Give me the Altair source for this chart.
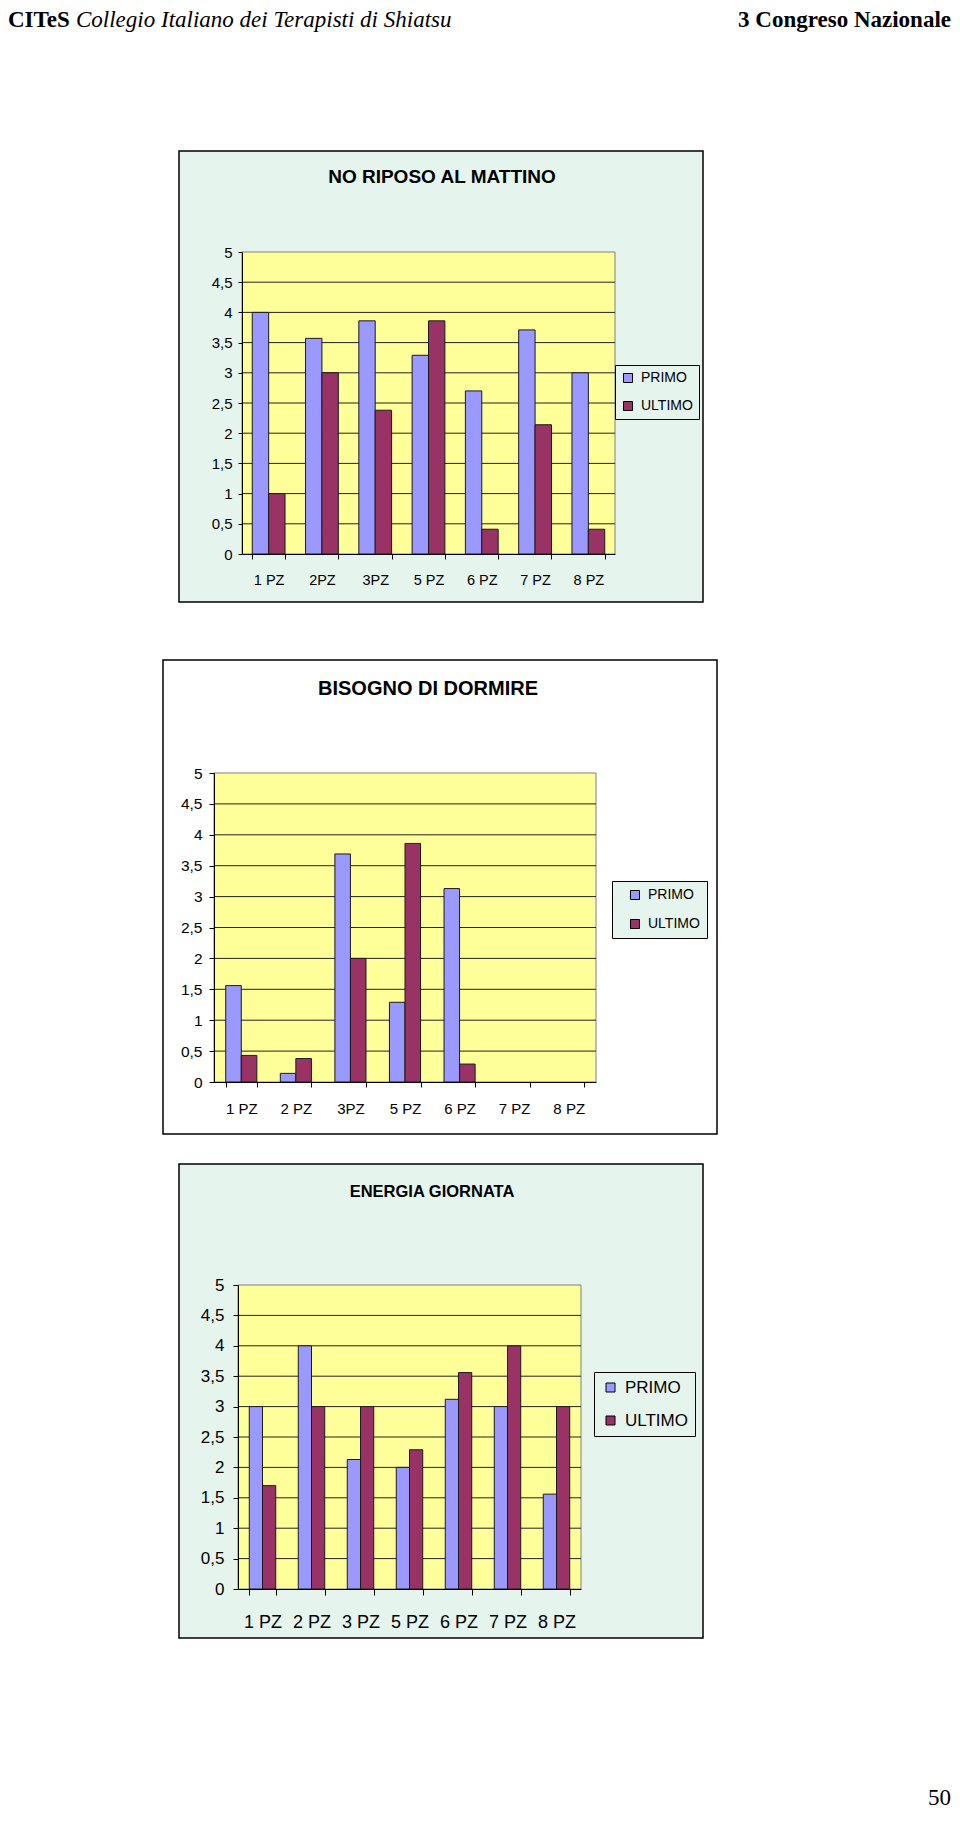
import altair as alt
import pandas as pd

# ---------------- data ----------------
series = ["PRIMO", "ULTIMO"]

cats_1 = ["1 PZ", "2PZ", "3PZ", "5 PZ", "6 PZ", "7 PZ", "8 PZ"]
primo_1 = [4.0, 3.57, 3.86, 3.29, 2.70, 3.71, 3.0]
ultimo_1 = [1.0, 3.0, 2.38, 3.86, 0.41, 2.14, 0.41]

cats_2 = ["1 PZ", "2 PZ", "3PZ", "5 PZ", "6 PZ", "7 PZ", "8 PZ"]
primo_2 = [1.56, 0.14, 3.69, 1.29, 3.13, 0.0, 0.0]
ultimo_2 = [0.43, 0.38, 2.0, 3.86, 0.29, 0.0, 0.0]

cats_3 = ["1 PZ", "2 PZ", "3 PZ", "5 PZ", "6 PZ", "7 PZ", "8 PZ"]
primo_3 = [3.0, 4.0, 2.13, 2.0, 3.12, 3.0, 1.56]
ultimo_3 = [1.7, 3.0, 3.0, 2.29, 3.56, 4.0, 3.0]

titles = ["NO RIPOSO AL MATTINO", "BISOGNO DI DORMIRE", "ENERGIA GIORNATA"]
y_ticks = [0, 0.5, 1, 1.5, 2, 2.5, 3, 3.5, 4, 4.5, 5]
grid_values = [0.5, 1, 1.5, 2, 2.5, 3, 3.5, 4, 4.5]

header_bold = "CITeS"
header_italic = "Collegio Italiano dei Terapisti di Shiatsu"
header_right = "3 Congreso Nazionale"
page_number = "50"

# ---------------- styles / layout ----------------
W, H = 944, 1805
MINT = "#E6F4EE"
YELLOW = "#FFFF99"
COLORS = ["#9999FF", "#993366"]
SANS = "Liberation Sans"
SERIF = "Liberation Serif"

panels = [
    dict(cats=cats_1, primo=primo_1, ultimo=ultimo_1, title=titles[0], bg=MINT,
         box=(171, 143, 695, 594), plot=(234, 244, 607, 546), pi=0.385,
         legend=(607, 357), leg_font=14, leg_pad=6, leg_row=14, leg_symoff=0, leg_laboff=6,
         title_xy=(434, 169), title_size=19,
         ylab=15, ypad=6, ytick=4, xlab=14.5, xpad=14, xtick=5),
    dict(cats=cats_2, primo=primo_2, ultimo=ultimo_2, title=titles[1], bg="#FFFFFF",
         box=(155, 652, 709, 1126), plot=(206, 765, 588, 1074), pi=0.43,
         legend=(604, 873), leg_font=14, leg_pad=7, leg_row=15, leg_symoff=9, leg_laboff=6,
         title_xy=(420, 681), title_size=20,
         ylab=15.5, ypad=7, ytick=5, xlab=15, xpad=14, xtick=5),
    dict(cats=cats_3, primo=primo_3, ultimo=ultimo_3, title=titles[2], bg=MINT,
         box=(171, 1156, 695, 1630), plot=(230, 1277, 573, 1581), pi=0.46,
         legend=(586, 1364), leg_font=17, leg_pad=7, leg_row=15, leg_symoff=1, leg_laboff=6,
         title_xy=(424, 1184), title_size=16.5,
         ylab=17, ypad=9, ytick=5, xlab=18, xpad=18, xtick=6),
]

one = pd.DataFrame({"k": [0]})
layers = []

for p in panels:
    bx0, by0, bx1, by1 = p["box"]
    x0, y0, x1, y1 = p["plot"]
    n = len(p["cats"])
    df = pd.DataFrame({
        "cat": p["cats"] * 2,
        "series": [series[0]] * n + [series[1]] * n,
        "value": p["primo"] + p["ultimo"],
    })
    yscale = alt.Scale(domain=[0, 5], range=[y1, y0], nice=False, zero=True)

    box = alt.Chart(one).mark_rect(fill=p["bg"], stroke="black", strokeWidth=1.5).encode(
        x=alt.value(bx0), x2=alt.value(bx1), y=alt.value(by0), y2=alt.value(by1))
    plot_bg = alt.Chart(one).mark_rect(fill=YELLOW, stroke="#808080", strokeWidth=1).encode(
        x=alt.value(x0), x2=alt.value(x1), y=alt.value(y0), y2=alt.value(y1))
    grid = alt.Chart(pd.DataFrame({"t": grid_values})).mark_rule(color="#222222", strokeWidth=1).encode(
        y=alt.Y("t:Q", scale=yscale, axis=None),
        x=alt.value(x0), x2=alt.value(x1))

    bars = alt.Chart(df).transform_filter("datum.value > 0").mark_bar(
        stroke="#1a1a1a", strokeWidth=1).encode(
        x=alt.X("cat:N", sort=p["cats"],
                scale=alt.Scale(domain=p["cats"], range=[x0, x1],
                                paddingInner=p["pi"], paddingOuter=p["pi"] / 2),
                axis=alt.Axis(orient="bottom", offset=y1 - H, title=None, labelAngle=0,
                              tickBand="extent", grid=False, zindex=1,
                              domainColor="black", tickColor="black", labelColor="black",
                              labelFont=SANS, labelFontSize=p["xlab"], labelPadding=p["xpad"],
                              tickSize=p["xtick"], labelOverlap=False)),
        xOffset=alt.XOffset("series:N", sort=series,
                            scale=alt.Scale(domain=series, paddingInner=0, paddingOuter=0)),
        y=alt.Y("value:Q", scale=yscale,
                axis=alt.Axis(orient="left", offset=-x0, values=y_ticks, title=None, grid=False,
                              zindex=1, labelExpr="replace(format(datum.value, '.1~f'), '.', ',')",
                              domainColor="black", tickColor="black", labelColor="black",
                              labelFont=SANS, labelFontSize=p["ylab"], labelPadding=p["ypad"],
                              tickSize=p["ytick"])),
        color=alt.Color("series:N", sort=series,
                        scale=alt.Scale(domain=series, range=COLORS),
                        legend=alt.Legend(orient="none", legendX=p["legend"][0], legendY=p["legend"][1],
                                          title=None, fillColor=MINT, strokeColor="black",
                                          padding=p["leg_pad"], rowPadding=p["leg_row"],
                                          symbolType="square", symbolSize=81,
                                          symbolStrokeColor="black", symbolStrokeWidth=1,
                                          symbolOffset=p["leg_symoff"], labelOffset=p["leg_laboff"],
                                          labelFont=SANS, labelFontSize=p["leg_font"],
                                          labelColor="black", zindex=1)),
    )
    title = alt.Chart(one).mark_text(font=SANS, fontWeight="bold", fontSize=p["title_size"],
                                     align="center", baseline="middle", color="black").encode(
        x=alt.value(p["title_xy"][0]), y=alt.value(p["title_xy"][1]), text=alt.value(p["title"]))
    layers += [box, plot_bg, grid, bars, title]

HY = 19
hdr1 = alt.Chart(one).mark_text(font=SERIF, fontWeight="bold", fontSize=23, align="left",
                                baseline="alphabetic", color="black").encode(
    x=alt.value(0), y=alt.value(HY), text=alt.value(header_bold))
hdr2 = alt.Chart(one).mark_text(font=SERIF, fontStyle="italic", fontSize=23, align="left",
                                baseline="alphabetic", color="black").encode(
    x=alt.value(68), y=alt.value(HY), text=alt.value(header_italic))
hdr3 = alt.Chart(one).mark_text(font=SERIF, fontWeight="bold", fontSize=23, align="right",
                                baseline="alphabetic", color="black").encode(
    x=alt.value(943), y=alt.value(HY), text=alt.value(header_right))
pnum = alt.Chart(one).mark_text(font=SERIF, fontSize=23, align="right",
                                baseline="alphabetic", color="black").encode(
    x=alt.value(943), y=alt.value(1797), text=alt.value(page_number))
layers += [hdr1, hdr2, hdr3, pnum]

chart = alt.layer(*layers).resolve_scale(
    x="independent", y="independent", color="independent", xOffset="independent"
).resolve_axis(x="independent", y="independent").resolve_legend(color="independent").properties(
    width=W, height=H, padding=0, autosize=alt.AutoSizeParams(type="none"),
    view=alt.ViewBackground(stroke="transparent", strokeWidth=0, fill="white")
).configure_view(stroke="transparent", strokeWidth=0).configure(background="white")

chart.save("out.html", embed_options={"renderer": "svg", "actions": False})
